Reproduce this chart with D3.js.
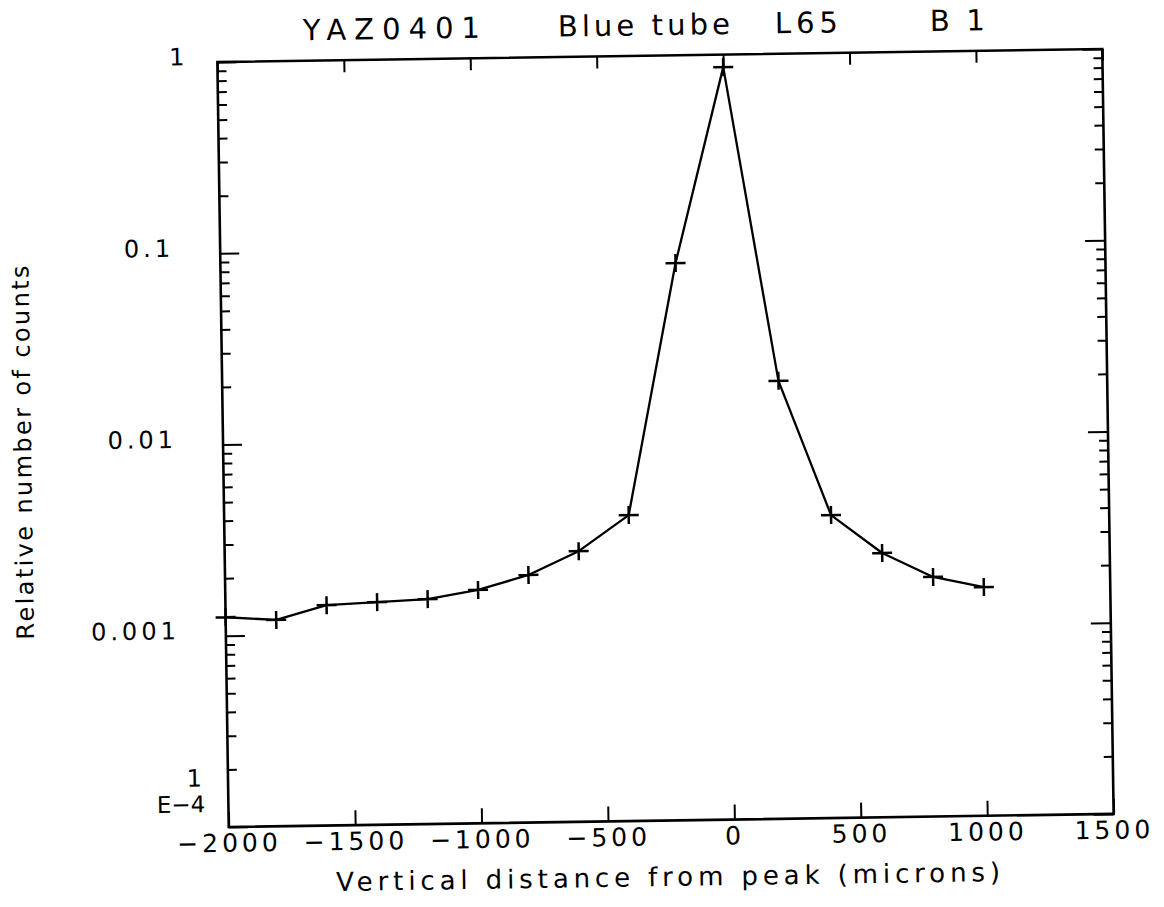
<!DOCTYPE html>
<html>
<head>
<meta charset="utf-8">
<script src="https://cdn.jsdelivr.net/npm/d3@7/dist/d3.min.js"></script>
<style>
  html, body { margin: 0; padding: 0; background: #fff; }
  svg { display: block; }
  text { font-family: "DejaVu Sans", "Liberation Sans", sans-serif; fill: #000; }
</style>
</head>
<body>
<script>
// ---------- data ----------
const titleParts = ["YAZ0401", "Blue tube", "L65", "B1"];
const xAxisTitle = "Vertical distance from peak (microns)";
const yAxisTitle = "Relative number of counts";

const xTicks = [-2000, -1500, -1000, -500, 0, 500, 1000, 1500];
const xTickLabels = ["\u22122000", "\u22121500", "\u22121000", "\u2212500", "0", "500", "1000", "1500"];

const yTicks = [1, 0.1, 0.01, 0.001, 0.0001];
const yTickLabels = ["1", "0.1", "0.01", "0.001", "1\nE\u22124"];

const distances = [-2000, -1800, -1600, -1400, -1200, -1000, -800, -600, -400, -200, 0, 200, 400, 600, 800, 1000];
const counts = [0.00125, 0.00120, 0.00142, 0.00146, 0.00150, 0.00166, 0.00197, 0.00260, 0.00398,
                0.082, 0.86, 0.0195, 0.00384, 0.00241, 0.00179, 0.00157];

// ---------- layout ----------
const W = 1164, H = 907;
const L = 223, R = 1108, T = 55.5, B = 820.5;

const svg = d3.select("body").append("svg").attr("width", W).attr("height", H);
svg.append("rect").attr("width", W).attr("height", H).attr("fill", "#fff");

// the scanned page is slightly tilted
const g = svg.append("g").attr("transform", "rotate(-0.85,665.5,438)");

const x = d3.scaleLinear().domain([-2000, 1500]).range([L, R]);
const y = d3.scaleLog().domain([1e-4, 1]).range([B, T]);

// minor log ticks
const yMinor = [];
for (let e = -4; e < 0; e++) {
  for (let m = 2; m <= 9; m++) yMinor.push(m * Math.pow(10, e));
}

function styleAxis(sel) {
  sel.select(".domain").remove();
  sel.selectAll(".tick line").attr("stroke", "#000").attr("stroke-width", 2);
}

// frame
g.append("rect")
  .attr("x", L).attr("y", T)
  .attr("width", R - L).attr("height", B - T)
  .attr("fill", "none").attr("stroke", "#000").attr("stroke-width", 2.6);

// bottom axis with labels
const bottomAxis = g.append("g").attr("transform", `translate(0,${B})`)
  .call(d3.axisBottom(x).tickValues(xTicks).tickSize(-15).tickPadding(7)
    .tickFormat((d, i) => xTickLabels[i]));
styleAxis(bottomAxis);
bottomAxis.attr("font-family", null).attr("font-size", null);
bottomAxis.selectAll(".tick text")
  .attr("font-size", 25)
  .attr("letter-spacing", 4).attr("fill", "#000");

// top axis
const topAxis = g.append("g").attr("transform", `translate(0,${T})`)
  .call(d3.axisTop(x).tickValues(xTicks).tickSize(-12).tickFormat(""));
styleAxis(topAxis);

// left axis (decades + minors)
styleAxis(g.append("g").attr("transform", `translate(${L},0)`)
  .call(d3.axisLeft(y).tickValues(yTicks).tickSize(-19).tickFormat("")));
styleAxis(g.append("g").attr("transform", `translate(${L},0)`)
  .call(d3.axisLeft(y).tickValues(yMinor).tickSize(-9).tickFormat("")));

// right axis (decades + minors)
styleAxis(g.append("g").attr("transform", `translate(${R},0)`)
  .call(d3.axisRight(y).tickValues(yTicks).tickSize(-20).tickFormat("")));
styleAxis(g.append("g").attr("transform", `translate(${R},0)`)
  .call(d3.axisRight(y).tickValues(yMinor).tickSize(-9).tickFormat("")));

// y tick labels
yTicks.forEach((v, i) => {
  const lab = yTickLabels[i];
  const lines = lab.split("\n");
  if (lines.length === 2) {
    // "1" over "E-4"
    g.append("text").attr("x", 197).attr("y", y(v) - 41)
      .attr("text-anchor", "end").attr("font-size", 24)
      .text(lines[0]);
    g.append("text").attr("x", 200).attr("y", y(v) - 15)
      .attr("text-anchor", "end").attr("font-size", 23)
      .text(lines[1]);
  } else {
    const xr = (lab === "1") ? 194 : 177;
    g.append("text").attr("x", xr).attr("y", y(v) - 6)
      .attr("dy", "0.36em")
      .attr("text-anchor", "end").attr("font-size", 24).attr("letter-spacing", 4)
      .text(lab);
  }
});

// title pieces
const titleX = [309, 564, 781, 936];
const titleW = [177, 172, 63, 55];
titleParts.forEach((t, i) => {
  g.append("text").attr("x", titleX[i]).attr("y", 35)
    .attr("font-size", 29)
    .attr("textLength", titleW[i]).attr("lengthAdjust", "spacing")
    .text(t);
});

// axis titles
g.append("text").attr("x", (L + R) / 2 - 4).attr("y", 886)
  .attr("text-anchor", "middle").attr("font-size", 26)
  .attr("textLength", 664).attr("lengthAdjust", "spacing")
  .text(xAxisTitle);

g.append("text")
  .attr("transform", `translate(31,443) rotate(-90)`)
  .attr("text-anchor", "middle").attr("font-size", 24)
  .attr("textLength", 374).attr("lengthAdjust", "spacing")
  .text(yAxisTitle);

// data
const pts = distances.map((d, i) => ({ x: d, y: counts[i] }));
const line = d3.line().x(d => x(d.x)).y(d => y(d.y));
g.append("path").datum(pts)
  .attr("d", line).attr("fill", "none")
  .attr("stroke", "#000").attr("stroke-width", 2.3).attr("stroke-linejoin", "round");

g.selectAll(".mk").data(pts).enter().append("path")
  .attr("class", "mk")
  .attr("transform", d => `translate(${x(d.x)},${y(d.y)})`)
  .attr("d", "M-10,0H10M0,-9V9")
  .attr("stroke", "#000").attr("stroke-width", 2.5).attr("fill", "none");
</script>
</body>
</html>
